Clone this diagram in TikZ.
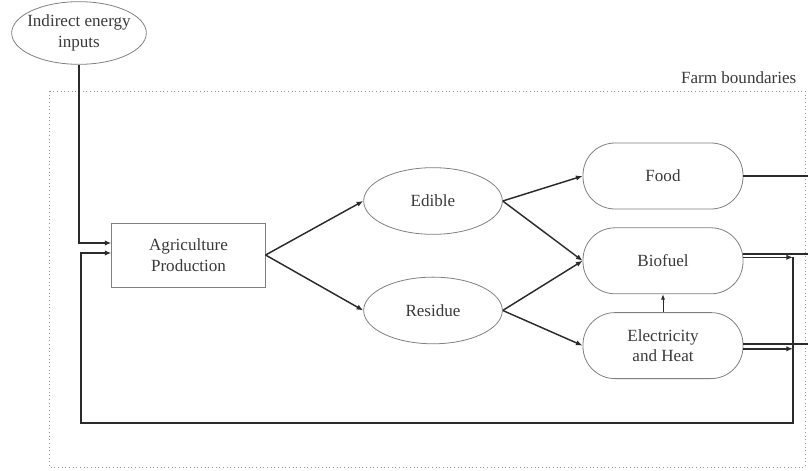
\documentclass[tikz,border=0pt]{standalone}
\usepackage{fontspec}
\setmainfont{Liberation Serif}
\usetikzlibrary{arrows.meta,positioning,shapes.geometric}
\definecolor{Ink}{HTML}{3A3A3A}
\definecolor{Wire}{HTML}{2B2B2B}
\definecolor{Rim}{HTML}{808080}
\definecolor{Dots}{HTML}{959595}
\tikzset{
  txt/.style={font=\fontsize{12.8}{15.5}\selectfont,text=Ink,align=center},
  inputoval/.style={ellipse,draw=Rim,line width=0.6pt,inner sep=0pt,txt,
    minimum width=101pt,minimum height=47pt},
  partoval/.style={inputoval,minimum width=104pt,minimum height=50pt},
  procbox/.style={rectangle,draw=Rim,line width=0.6pt,txt,
    minimum width=115pt,minimum height=48pt},
  outbox/.style={rectangle,draw=Rim,line width=0.6pt,rounded corners=24pt,txt,
    minimum width=120pt,minimum height=49.5pt},
  flowarrow/.style={-{Latex[length=5pt,width=4pt]},line width=1.1pt,color=Wire},
  thinarrow/.style={flowarrow,line width=0.6pt,-{Latex[length=4pt,width=3pt]}},
  outline/.style={line width=1.3pt,color=Wire},
  boundary/.style={draw=Dots,dotted,line width=0.75pt}
}
\begin{document}
\begin{tikzpicture}[x=0.75pt,y=-0.75pt]
  \useasboundingbox (0,0) rectangle (808,471);
  % farm boundary
  \coordinate (farmnw) at (49,91);
  \coordinate (farmse) at (805,467);
  \draw[boundary] (farmnw) rectangle (farmse);
  \node[txt,anchor=base east] (farmlabel) at (801,83) {Farm boundaries};
  % nodes
  \node[inputoval,inner xsep=-5pt] (indirect) at (79,33) {Indirect energy\\inputs};
  \node[procbox] (agri) at (188.5,255) {Agriculture\\Production};
  \node[partoval] (edible) at (433,201) {Edible};
  \node[partoval,below=31.5pt of edible] (residue) {Residue};
  \node[outbox] (food) at (663,176) {Food};
  \node[outbox,below=13.5pt of food] (biofuel) {Biofuel};
  \node[outbox,below=13.5pt of biofuel] (elec) {Electricity\\and Heat};
  % flows
  \draw[flowarrow] (agri.east) -- (edible.west);
  \draw[flowarrow] (agri.east) -- (residue.west);
  \draw[flowarrow] (edible.east) -- (food.west);
  \draw[flowarrow] (edible.east) -- (biofuel.west);
  \draw[flowarrow] (residue.east) -- (biofuel.west);
  \draw[flowarrow] (residue.east) -- (elec.west);
  \draw[thinarrow] (elec.north) -- (biofuel.south);
  \draw[flowarrow] (indirect.south) |- ([yshift=9pt]agri.west);
  % outputs leaving the farm
  \coordinate (rimright) at (808,0);
  \draw[outline] (food.east) -- (food.east -| rimright);
  \draw[outline] ([yshift=5.2pt]biofuel.east) -- ([yshift=5.2pt]biofuel.east -| rimright);
  \draw[outline] ([yshift=1pt]elec.east) -- ([yshift=1pt]elec.east -| rimright);
  % return loop
  \coordinate (loopse) at (793,423);
  \coordinate (loopsw) at (81,423);
  \coordinate (bioret) at ([yshift=2.6pt]biofuel.east -| loopse);
  \draw[flowarrow] ([yshift=2.6pt]biofuel.east) -- (bioret);
  \draw[flowarrow] ([yshift=-2.4pt]elec.east) -- ([yshift=-2.4pt]elec.east -| loopse);
  \draw[flowarrow] (bioret) -- (loopse) -- (loopsw) |- ([yshift=1.5pt]agri.west);
\end{tikzpicture}
\end{document}
